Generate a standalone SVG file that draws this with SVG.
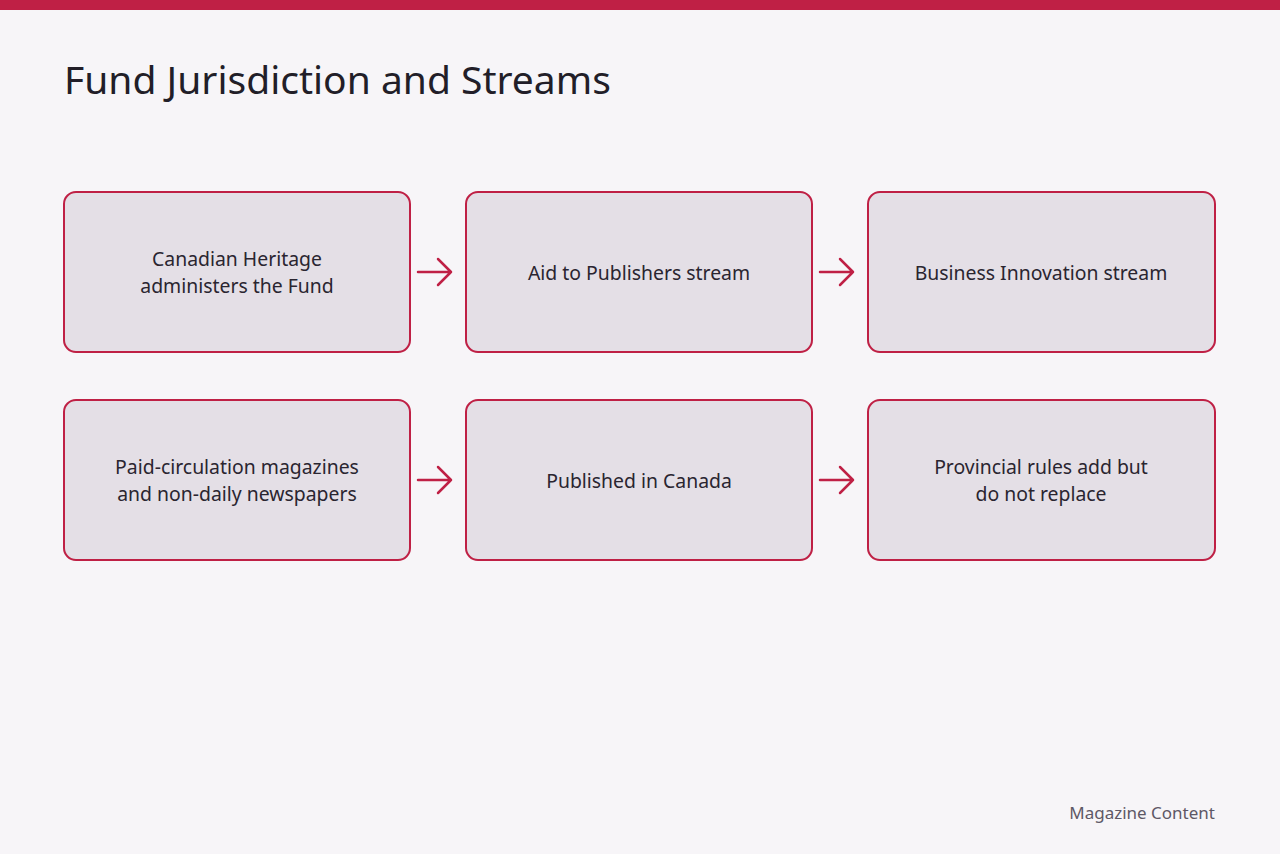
<svg xmlns="http://www.w3.org/2000/svg" width="1280" height="854" viewBox="0 0 1280 854">
<style>
.box{fill:#e4dfe6;stroke:#bf2045;stroke-width:2}
.t{font-family:"Noto Sans","Open Sans",sans-serif;font-size:19.4px;fill:#2a2530;text-anchor:middle}
.c{stroke:#bf2045;stroke-width:2.5;fill:none;stroke-linecap:round;stroke-linejoin:round}
</style>
<rect width="1280" height="854" fill="#f7f5f8"/>
<rect width="1280" height="10" fill="#bf2045"/>
<text x="64" y="94" font-family="Noto Sans,Open Sans,sans-serif" font-size="39" fill="#221e28">Fund Jurisdiction and Streams</text>
<g id="n1"><rect class="box" x="64" y="192" width="346" height="160" rx="12"/><text class="t" x="237" y="266">Canadian Heritage</text><text class="t" x="237" y="293">administers the Fund</text></g>
<g id="n2"><rect class="box" x="466" y="192" width="346" height="160" rx="12"/><text class="t" x="639" y="280">Aid to Publishers stream</text></g>
<g id="n3"><rect class="box" x="868" y="192" width="347" height="160" rx="12"/><text class="t" x="1041" y="280">Business Innovation stream</text></g>
<g id="n4"><rect class="box" x="64" y="400" width="346" height="160" rx="12"/><text class="t" x="237" y="474">Paid-circulation magazines</text><text class="t" x="237" y="501">and non-daily newspapers</text></g>
<g id="n5"><rect class="box" x="466" y="400" width="346" height="160" rx="12"/><text class="t" x="639" y="488">Published in Canada</text></g>
<g id="n6"><rect class="box" x="868" y="400" width="347" height="160" rx="12"/><text class="t" x="1041" y="474">Provincial rules add but</text><text class="t" x="1041" y="501">do not replace</text></g>
<g id="connectors">
<path class="c" d="M418 272H451M438 259L451 272L438 285"/>
<path class="c" d="M820 272H853M840 259L853 272L840 285"/>
<path class="c" d="M418 480H451M438 467L451 480L438 493"/>
<path class="c" d="M820 480H853M840 467L853 480L840 493"/>
</g>
<text x="1215" y="819" text-anchor="end" font-family="Noto Sans,Open Sans,sans-serif" font-size="17" fill="#5e5866">Magazine Content</text>
</svg>
